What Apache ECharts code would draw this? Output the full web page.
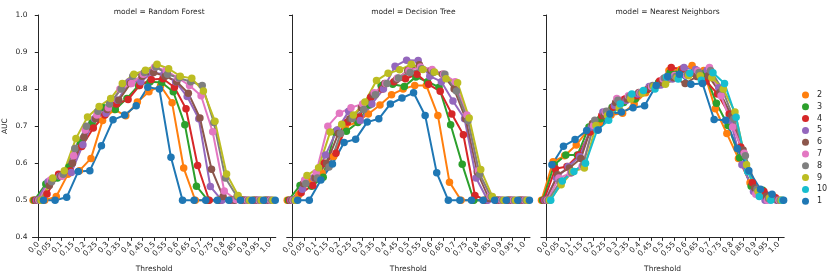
<!DOCTYPE html>
<html>
<head>
<meta charset="utf-8">
<script src="https://cdn.jsdelivr.net/npm/echarts@6/dist/echarts.min.js"></script>
<style>
html,body{margin:0;padding:0;background:#fff;}
#chart{width:830px;height:278px;}
</style>
</head>
<body>
<div id="chart"></div>
<script>
// ---------- data ----------
const thresholds = ['0.0','0.05','0.1','0.15','0.2','0.25','0.3','0.35','0.4','0.45','0.5','0.55','0.6','0.65','0.7','0.75','0.8','0.85','0.9','0.95','1.0'];
const hueNames = ['2','3','4','5','6','7','8','9','10','1'];
const models = ['Random Forest','Decision Tree','Nearest Neighbors'];
const yTicks = [0.4,0.5,0.6,0.7,0.8,0.9,1.0];

// Random Forest
const rf2 = [0.5,0.5,0.51,0.57,0.58,0.613,0.715,0.745,0.728,0.765,0.793,0.809,0.763,0.587,0.5,0.5,0.5,0.5,0.5,0.5,0.5];
const rf3 = [0.5,0.544,0.56,0.59,0.655,0.71,0.75,0.745,0.775,0.81,0.82,0.818,0.793,0.704,0.538,0.5,0.5,0.5,0.5,0.5,0.5];
const rf4 = [0.5,0.517,0.57,0.58,0.645,0.695,0.73,0.76,0.772,0.81,0.826,0.828,0.805,0.747,0.594,0.5,0.5,0.5,0.5,0.5,0.5];
const rf5 = [0.5,0.55,0.565,0.575,0.65,0.72,0.735,0.77,0.82,0.82,0.845,0.84,0.82,0.78,0.72,0.537,0.5,0.5,0.5,0.5,0.5];
const rf6 = [0.5,0.54,0.565,0.6,0.67,0.72,0.745,0.77,0.815,0.835,0.845,0.835,0.82,0.789,0.722,0.584,0.51,0.5,0.5,0.5,0.5];
const rf7 = [0.5,0.555,0.565,0.62,0.69,0.73,0.75,0.8,0.815,0.84,0.86,0.85,0.83,0.81,0.782,0.685,0.525,0.502,0.5,0.5,0.5];
const rf8 = [0.5,0.55,0.57,0.64,0.7,0.74,0.76,0.8,0.835,0.845,0.86,0.84,0.83,0.82,0.81,0.71,0.56,0.51,0.5,0.5,0.5];
const rf9 = [0.5,0.56,0.58,0.667,0.725,0.753,0.775,0.815,0.84,0.851,0.867,0.855,0.835,0.829,0.795,0.713,0.571,0.513,0.5,0.5,0.5];
const rf10 = null;
const rf1 = [0.5,0.5,0.508,0.578,0.58,0.647,0.717,0.73,0.755,0.805,0.8,0.616,0.5,0.5,0.5,0.5,0.5,0.5,0.5,0.5,0.5];

// Decision Tree
const dt2 = [0.5,0.515,0.551,0.573,0.618,0.698,0.711,0.733,0.757,0.785,0.8,0.81,0.81,0.729,0.549,0.5,0.5,0.5,0.5,0.5,0.5];
const dt3 = [0.5,0.54,0.538,0.562,0.684,0.686,0.71,0.757,0.81,0.813,0.807,0.833,0.82,0.805,0.704,0.597,0.5,0.5,0.5,0.5,0.5];
const dt4 = [0.5,0.52,0.54,0.6,0.627,0.711,0.724,0.778,0.8,0.82,0.828,0.84,0.813,0.794,0.733,0.677,0.513,0.5,0.5,0.5,0.5];
const dt5 = [0.5,0.53,0.56,0.622,0.69,0.74,0.715,0.76,0.8,0.862,0.878,0.877,0.835,0.82,0.768,0.72,0.56,0.5,0.5,0.5,0.5];
const dt6 = [0.5,0.545,0.56,0.6,0.68,0.72,0.75,0.785,0.815,0.825,0.85,0.866,0.85,0.84,0.8,0.72,0.576,0.505,0.5,0.5,0.5];
const dt7 = [0.5,0.555,0.575,0.7,0.735,0.75,0.76,0.79,0.815,0.83,0.85,0.86,0.853,0.84,0.82,0.73,0.58,0.51,0.5,0.5,0.5];
const dt8 = [0.5,0.545,0.56,0.59,0.68,0.72,0.745,0.785,0.815,0.83,0.845,0.855,0.845,0.84,0.795,0.715,0.57,0.51,0.5,0.5,0.5];
const dt9 = [0.5,0.567,0.588,0.684,0.705,0.73,0.765,0.823,0.843,0.852,0.867,0.853,0.846,0.828,0.817,0.722,0.583,0.51,0.5,0.5,0.5];
const dt10 = null;
const dt1 = [0.5,0.5,0.555,0.598,0.656,0.665,0.711,0.72,0.76,0.776,0.79,0.729,0.574,0.5,0.5,0.5,0.5,0.5,0.5,0.5,0.5];

// Nearest Neighbors
const nn2 = [0.5,0.604,0.62,0.649,0.69,0.71,0.73,0.735,0.76,0.79,0.81,0.85,0.853,0.864,0.85,0.747,0.68,0.613,0.547,0.526,0.511];
const nn3 = [0.5,0.596,0.622,0.622,0.698,0.72,0.751,0.764,0.773,0.798,0.818,0.844,0.85,0.844,0.843,0.762,0.702,0.615,0.538,0.527,0.505];
const nn4 = [0.5,0.585,0.591,0.622,0.684,0.729,0.751,0.773,0.782,0.8,0.822,0.858,0.855,0.843,0.822,0.787,0.733,0.644,0.547,0.524,0.507];
const nn5 = [0.5,0.56,0.591,0.618,0.698,0.738,0.756,0.769,0.787,0.807,0.811,0.827,0.858,0.853,0.851,0.804,0.716,0.596,0.524,0.5,0.5];
const nn6 = [0.5,0.569,0.587,0.613,0.707,0.729,0.764,0.773,0.791,0.804,0.818,0.831,0.815,0.834,0.836,0.791,0.729,0.636,0.533,0.511,0.5];
const nn7 = [0.5,0.56,0.573,0.591,0.702,0.738,0.775,0.782,0.79,0.807,0.827,0.837,0.837,0.849,0.858,0.782,0.698,0.627,0.516,0.5,0.5];
const nn8 = [0.5,0.55,0.575,0.595,0.716,0.74,0.77,0.78,0.79,0.81,0.83,0.834,0.84,0.845,0.85,0.8,0.72,0.62,0.53,0.505,0.5];
const nn9 = [0.5,0.542,0.578,0.587,0.702,0.729,0.749,0.773,0.789,0.807,0.813,0.831,0.836,0.836,0.831,0.8,0.738,0.596,0.524,0.507,0.5];
const nn10 = [0.5,0.552,0.578,0.6,0.689,0.716,0.76,0.787,0.796,0.8,0.833,0.827,0.843,0.824,0.844,0.815,0.724,0.578,0.51,0.5,0.5];
const nn1 = [0.596,0.646,0.664,0.688,0.69,0.733,0.738,0.75,0.755,0.81,0.834,0.84,0.813,0.815,0.718,0.716,0.64,0.58,0.53,0.516,0.5];

// ---------- styling ----------
const colors = ['#ff7f0e','#2ca02c','#d62728','#9467bd','#8c564b','#e377c2','#7f7f7f','#bcbd22','#17becf','#1f77b4'];
const panelData = [
  [rf2,rf3,rf4,rf5,rf6,rf7,rf8,rf9,rf10,rf1],
  [dt2,dt3,dt4,dt5,dt6,dt7,dt8,dt9,dt10,dt1],
  [nn2,nn3,nn4,nn5,nn6,nn7,nn8,nn9,nn10,nn1]
];
const FONT = 'DejaVu Sans';
const TXT = '#262626';
const FS = 7.5;
const gridLeft0 = 32.5, panelStep = 254.2, gridW = 243.3, gridTop = 15, gridH = 226;
const dodge = 0.9;

const grids = [], xAxes = [], yAxes = [], titles = [], series = [];
for (let p = 0; p < 3; p++) {
  const left = gridLeft0 + p * panelStep;
  grids.push({left: left, top: gridTop, width: gridW, height: gridH});
  titles.push({
    text: 'model = ' + models[p], left: left + gridW / 2, top: 3, textAlign: 'center',
    textStyle: {fontFamily: FONT, fontSize: FS, fontWeight: 'normal', color: TXT}
  });
  // visible category axis
  xAxes.push({
    type: 'category', gridIndex: p, data: thresholds, boundaryGap: true,
    name: 'Threshold', nameLocation: 'middle', nameGap: 24,
    nameTextStyle: {fontFamily: FONT, fontSize: FS, color: TXT},
    axisLine: {show: true, lineStyle: {color: TXT, width: 1}},
    axisTick: {show: true, alignWithLabel: true, length: 3.5, lineStyle: {color: TXT, width: 1}},
    axisLabel: {rotate: 45, interval: 0, margin: 6, fontFamily: FONT, fontSize: FS, color: TXT},
    splitLine: {show: false}
  });
  // hidden numeric axis for dodged points
  xAxes.push({
    type: 'value', gridIndex: p, min: -0.5, max: thresholds.length - 0.5, show: false,
    splitLine: {show: false}
  });
  yAxes.push({
    type: 'value', gridIndex: p, min: 0.4, max: 1.0, interval: 0.1,
    name: p === 0 ? 'AUC' : '', nameLocation: 'middle', nameGap: 23, nameRotate: 90,
    nameTextStyle: {fontFamily: FONT, fontSize: FS, color: TXT},
    axisLine: {show: true, lineStyle: {color: TXT, width: 1}},
    axisTick: {show: true, length: 3.5, lineStyle: {color: TXT, width: 1}},
    axisLabel: {show: p === 0, margin: 5, fontFamily: FONT, fontSize: FS, color: TXT,
      formatter: v => (Math.round(v * 10) / 10).toFixed(1)},
    splitLine: {show: false}
  });
  const n = hueNames.length;
  for (let k = 0; k < n; k++) {
    const vals = panelData[p][k];
    if (!vals) continue;
    const off = (k / (n - 1) - 0.5) * dodge;
    series.push({
      type: 'line', name: hueNames[k], xAxisIndex: p * 2 + 1, yAxisIndex: p,
      data: vals.map((v, i) => [i + off, v]),
      symbol: 'circle', symbolSize: 7.5, showSymbol: true,
      lineStyle: {width: 2, color: colors[k]},
      itemStyle: {color: colors[k]},
      emphasis: {disabled: true}, silent: true, clip: false
    });
  }
}

const chart = echarts.init(document.getElementById('chart'), null, {renderer: 'canvas'});
chart.setOption({
  animation: false,
  color: colors,
  title: titles,
  grid: grids,
  xAxis: xAxes,
  yAxis: yAxes,
  legend: {
    data: hueNames, orient: 'vertical', left: 797, top: 86,
    icon: 'circle', itemWidth: 7, itemHeight: 7, itemGap: 3.8,
    textStyle: {fontFamily: FONT, fontSize: 8, color: TXT, padding: [0, 0, 0, 3]},
    selectedMode: false
  },
  series: series
});
</script>
</body>
</html>
